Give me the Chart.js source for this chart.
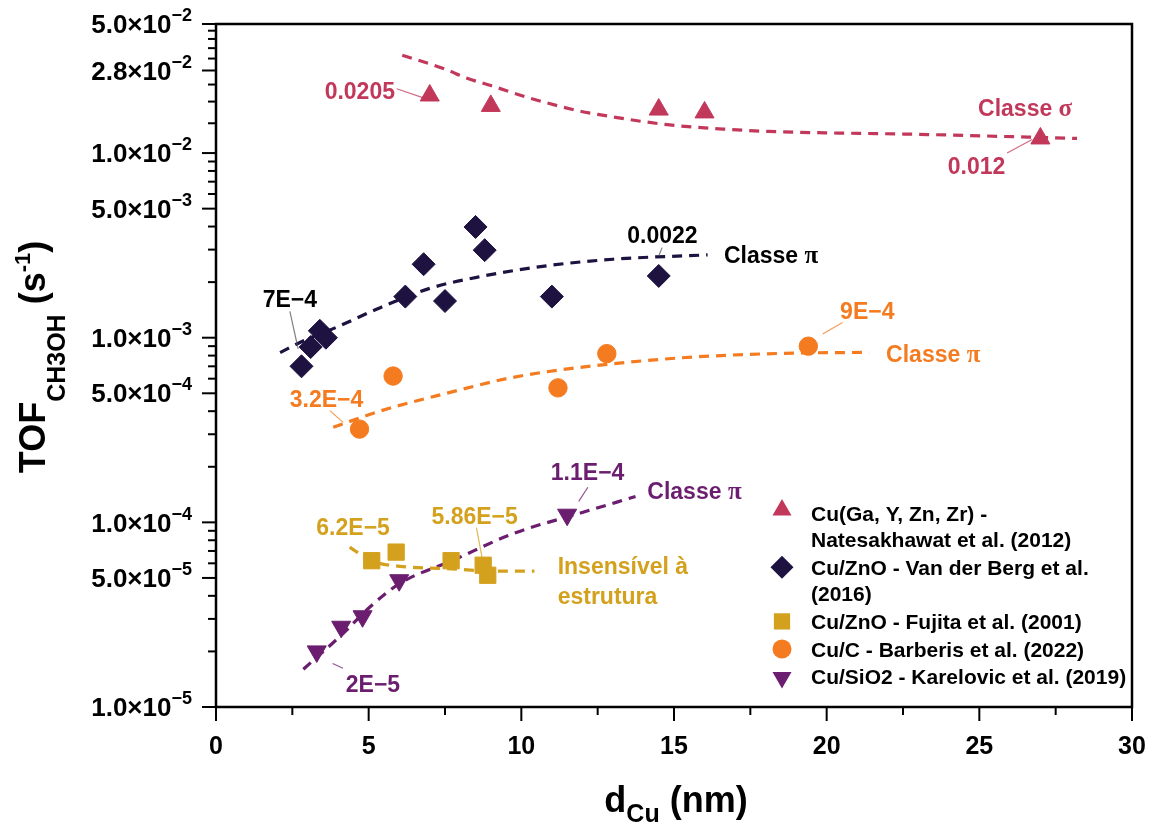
<!DOCTYPE html>
<html>
<head>
<meta charset="utf-8">
<script src="https://cdn.jsdelivr.net/npm/chart.js@4.4.1/dist/chart.umd.min.js"></script>
<style>
html,body{margin:0;padding:0;background:#fff;}
canvas{display:block;}
</style>
</head>
<body>
<canvas id="c" width="1157" height="828"></canvas>
<script>
/* ══ DATA ══ */
// Cu(Ga, Y, Zn, Zr) - Natesakhawat
const natX=[7.0,9.0,14.5,16.0,27.0];
const natY=[0.0205,0.018,0.0172,0.0166,0.012];
const natFitX=[6.1,7.5,8.2,9.0,10.3,11.9,12.5,14.7,16.9,18.1,23.3,28.2];
const natFitY=[0.0339,0.0285,0.0255,0.0232,0.0198,0.0169,0.0162,0.0143,0.0134,0.0131,0.0126,0.0120];
// Cu/ZnO - Van der Berg
const vdbX=[2.8,3.1,3.4,3.6,6.2,6.8,7.5,8.5,8.8,11.0,14.5];
const vdbY=[0.0007,0.00089,0.00109,0.001,0.00167,0.0025,0.00158,0.00398,0.00298,0.00167,0.00216];
const vdbFitX=[2.1,2.85,3.95,5.36,7.0,8.64,10.82,13.0,16.1];
const vdbFitY=[0.00083,0.00096,0.00114,0.00145,0.00185,0.00214,0.00245,0.00266,0.00281];
// Cu/ZnO - Fujita
const fujX=[5.1,5.9,7.7,8.75,8.9];
const fujY=[6.2e-5,6.9e-5,6.2e-5,5.86e-5,5.17e-5];
const fujFitX=[4.38,5.04,6.02,7.55,9.07,10.43];
const fujFitY=[7.35e-5,6.23e-5,5.78e-5,5.62e-5,5.45e-5,5.45e-5];
// Cu/C - Barberis
const barX=[4.7,5.8,11.2,12.8,19.4];
const barY=[0.00032,0.00062,0.000535,0.00082,0.0009];
const barFitX=[3.84,5.36,7.55,9.73,11.91,15.18,18.45,21.39];
const barFitY=[0.000327,0.0004,0.0005,0.00061,0.00069,0.000777,0.000822,0.000833];
// Cu/SiO2 - Karelovic
const karX=[3.3,4.1,4.8,6.0,11.5];
const karY=[2e-5,2.72e-5,3.1e-5,4.86e-5,1.1e-4];
const karFitX=[2.86,4.16,5.04,6.02,7.76,9.73,11.91,13.74];
const karFitY=[1.6e-5,2.5e-5,3.48e-5,4.67e-5,6.23e-5,8.69e-5,1.12e-4,1.38e-4];

// ticks
const xMajor=[0,5,10,15,20,25,30];
const xMinor=[2.5,7.5,12.5,17.5,22.5,27.5];
const yMajor=[5e-2,2.8e-2,1e-2,5e-3,1e-3,5e-4,1e-4,5e-5,1e-5];
const yMinor=[1.45e-2,1.9e-2,2.35e-2,3.25e-2,3.7e-2,4.15e-2,4.6e-2,
  2e-3,3e-3,4e-3,6e-3,7e-3,8e-3,9e-3,
  2e-4,3e-4,4e-4,6e-4,7e-4,8e-4,9e-4,
  2e-5,3e-5,4e-5,6e-5,7e-5,8e-5,9e-5];

const legendLabels=[
  ['Cu(Ga, Y, Zn, Zr) -','Natesakhawat et al. (2012)'],
  ['Cu/ZnO - Van der Berg et al.','(2016)'],
  ['Cu/ZnO - Fujita et al. (2001)'],
  ['Cu/C - Barberis et al. (2022)'],
  ['Cu/SiO2 - Karelovic et al. (2019)']
];

/* ══ STYLE ══ */
const RED='#C2385A',NAVY='#1D1240',GOLD='#D4A11E',ORANGE='#F47B20',PURPLE='#6B1E6F';
const FONT='"Liberation Sans", Arial, Helvetica, sans-serif';
const f=(px)=>`bold ${px}px ${FONT}`;
const fs=(px)=>`bold ${px}px "Liberation Serif", "Times New Roman", serif`;

// text notes (data coords) with optional leader line
const notes=[
  {t:'0.0205',x:4.71,y:0.0219,c:RED,lead:[5.92,0.0223,6.77,0.01995]},
  {t:'0.012',x:24.91,y:0.0085,c:RED,lead:[25.91,0.01,26.73,0.01183]},
  {t:'Classe σ',x:26.5,y:0.01758,c:RED},
  {t:'0.0022',x:14.62,y:0.003634,c:'#000',lead:[14.61,0.003076,14.5,0.002773]},
  {t:'Classe π',x:18.18,y:0.002812,c:'#000'},
  {t:'7E−4',x:2.42,y:0.001618,c:'#000',lead:[2.42,0.001387,2.69,0.000869]},
  {t:'9E−4',x:21.33,y:0.0014,c:ORANGE,lead:[19.87,0.001047,20.52,0.00121]},
  {t:'Classe π',x:23.49,y:0.00082,c:ORANGE},
  {t:'3.2E−4',x:3.62,y:0.000467,c:ORANGE,lead:[3.73,0.000403,4.16,0.000348]},
  {t:'6.2E−5',x:4.49,y:9.51e-5,c:GOLD},
  {t:'5.86E−5',x:8.47,y:1.09e-4,c:GOLD,lead:[8.53,9.36e-5,8.72,6.37e-5]},
  {t:'Insensível à',x:11.19,y:5.86e-5,c:GOLD,align:'left'},
  {t:'estrutura',x:11.19,y:4.03e-5,c:GOLD,align:'left'},
  {t:'1.1E−4',x:12.17,y:1.87e-4,c:PURPLE,lead:[12.18,1.55e-4,11.88,1.30e-4]},
  {t:'Classe π',x:15.67,y:1.49e-4,c:PURPLE},
  {t:'2E−5',x:5.14,y:1.34e-5,c:PURPLE,lead:[3.82,1.72e-5,4.16,1.62e-5]}
];

function pts(xs,ys){return xs.map((v,i)=>({x:v,y:ys[i]}));}
function scat(label,xs,ys,col,style,r,rot){
  return {label,data:pts(xs,ys),pointStyle:style,pointRadius:r,pointRotation:rot||0,
    backgroundColor:col,borderColor:col,pointBorderWidth:1,showLine:false,order:1};
}
function fit(xs,ys,col){
  return {label:'fit',data:pts(xs,ys),showLine:true,borderColor:col,borderWidth:3.2,borderDash:[10,7],
    pointRadius:0,tension:0.4,cubicInterpolationMode:'monotone',fill:false,order:2};
}

/* ══ DRAW HELPERS ══ */
function richW(ctx,segs){let w=0;segs.forEach(s=>{ctx.font=s.font;w+=ctx.measureText(s.text).width;});return w;}
function drawRich(ctx,segs,x,y,align){
  const w=richW(ctx,segs);
  let cx=align==='center'?x-w/2:align==='right'?x-w:x;
  ctx.textAlign='left';ctx.textBaseline='alphabetic';
  segs.forEach(s=>{ctx.font=s.font;ctx.fillStyle=s.color||'#000';ctx.fillText(s.text,cx,y+(s.dy||0));cx+=ctx.measureText(s.text).width;});
}
function noteSegs(t,c,px){
  const last=t.slice(-1);
  if(last==='π'||last==='σ') return [{text:t.slice(0,-1),font:f(px),color:c},{text:last,font:fs(px+2),color:c}];
  return [{text:t,font:f(px),color:c}];
}
function marker(ctx,style,x,y,r,col){
  ctx.fillStyle=col;ctx.beginPath();
  if(style==='triangle'||style==='triDown'){
    const s=style==='triangle'?1:-1;
    ctx.moveTo(x,y-s*r);
    ctx.lineTo(x+r*Math.sin(2*Math.PI/3),y-s*r*Math.cos(2*Math.PI/3));
    ctx.lineTo(x-r*Math.sin(2*Math.PI/3),y-s*r*Math.cos(2*Math.PI/3));
  }else if(style==='rectRot'){
    ctx.moveTo(x-r,y);ctx.lineTo(x,y-r);ctx.lineTo(x+r,y);ctx.lineTo(x,y+r);
  }else if(style==='rect'){
    const h=r*Math.SQRT1_2;ctx.rect(x-h,y-h,2*h,2*h);
  }else{ctx.arc(x,y,r,0,Math.PI*2);}
  ctx.closePath();ctx.fill();
}

const notesPlugin={
  id:'notes',
  afterDatasetsDraw(chart){
    const {ctx,scales:{x,y}}=chart;
    ctx.save();
    notes.forEach(n=>{
      if(n.lead){
        ctx.strokeStyle=n.c==='#000'?'#555':n.c;ctx.globalAlpha=0.75;ctx.lineWidth=1.2;
        ctx.beginPath();
        ctx.moveTo(x.getPixelForValue(n.lead[0]),y.getPixelForValue(n.lead[1]));
        ctx.lineTo(x.getPixelForValue(n.lead[2]),y.getPixelForValue(n.lead[3]));
        ctx.stroke();ctx.globalAlpha=1;
      }
      drawRich(ctx,noteSegs(n.t,n.c,23),x.getPixelForValue(n.x),y.getPixelForValue(n.y)+8.3,n.align||'center');
    });
    // legend
    const lstyles=[['triangle',11,RED],['rectRot',11.5,NAVY],['rect',11.5,GOLD],['circle',9.5,ORANGE],['triDown',11,PURPLE]];
    let ly=513;
    legendLabels.forEach((lines,i)=>{
      const [st,r,col]=lstyles[i];
      marker(ctx,st,782,ly-(st==='triangle'?3:st==='triDown'?-1:0),r,col);
      lines.forEach(t=>{drawRich(ctx,[{text:t,font:f(21),color:'#000'}],811,ly+7.5,'left');ly+=26.6;});
      ly+=1;
    });
    ctx.restore();
  },
  afterDraw(chart){
    const {ctx,chartArea:a,scales:{x,y}}=chart;
    ctx.save();
    ctx.strokeStyle='#000';ctx.lineWidth=2.5;
    ctx.strokeRect(a.left,a.top,a.right-a.left,a.bottom-a.top);
    ctx.lineWidth=2;
    const seg=(x1,y1,x2,y2)=>{ctx.beginPath();ctx.moveTo(x1,y1);ctx.lineTo(x2,y2);ctx.stroke();};
    xMajor.forEach(v=>{const p=x.getPixelForValue(v);seg(p,a.bottom,p,a.bottom+14);
      drawRich(ctx,[{text:String(v),font:f(25)}],p,a.bottom+47,'center');});
    xMinor.forEach(v=>{const p=x.getPixelForValue(v);seg(p,a.bottom,p,a.bottom+8);});
    yMajor.forEach(v=>{const p=y.getPixelForValue(v);seg(a.left-14,p,a.left,p);
      const e=Math.floor(Math.log10(v)+1e-9),m=(v/Math.pow(10,e)).toFixed(1);
      drawRich(ctx,[{text:m+'×10',font:f(26)},{text:'−'+Math.abs(e),font:f(18),dy:-12}],a.left-24,p+9.2,'right');});
    yMinor.forEach(v=>{const p=y.getPixelForValue(v);seg(a.left-8,p,a.left,p);});
    // axis titles
    drawRich(ctx,[{text:'d',font:f(36)},{text:'Cu',font:f(25),dy:10},{text:' (nm)',font:f(36)}],676,812,'center');
    ctx.translate(45,357);ctx.rotate(-Math.PI/2);
    drawRich(ctx,[{text:'TOF',font:f(36)},{text:'CH3OH',font:f(25),dy:20},{text:' (s',font:f(36)},{text:'-1',font:f(22),dy:-15},{text:')',font:f(36)}],0,0,'center');
    ctx.restore();
  }
};

new Chart(document.getElementById('c'),{
  type:'scatter',
  data:{datasets:[
    fit(natFitX,natFitY,RED),fit(vdbFitX,vdbFitY,NAVY),fit(fujFitX,fujFitY,GOLD),
    fit(barFitX,barFitY,ORANGE),fit(karFitX,karFitY,PURPLE),
    scat('Cu(Ga, Y, Zn, Zr) - Natesakhawat et al. (2012)',natX,natY,RED,'triangle',11),
    scat('Cu/ZnO - Van der Berg et al. (2016)',vdbX,vdbY,NAVY,'rectRot',11.5),
    scat('Cu/ZnO - Fujita et al. (2001)',fujX,fujY,GOLD,'rect',11.5),
    scat('Cu/C - Barberis et al. (2022)',barX,barY,ORANGE,'circle',9.2),
    scat('Cu/SiO2 - Karelovic et al. (2019)',karX,karY,PURPLE,'triangle',11,180)
  ]},
  options:{
    responsive:false,animation:false,devicePixelRatio:1,
    layout:{padding:{left:216,top:24,right:25,bottom:121}},
    plugins:{legend:{display:false},tooltip:{enabled:false}},
    scales:{
      x:{type:'linear',min:0,max:30,display:false},
      y:{type:'logarithmic',min:1e-5,max:5e-2,display:false}
    }
  },
  plugins:[notesPlugin]
});
</script>
</body>
</html>
